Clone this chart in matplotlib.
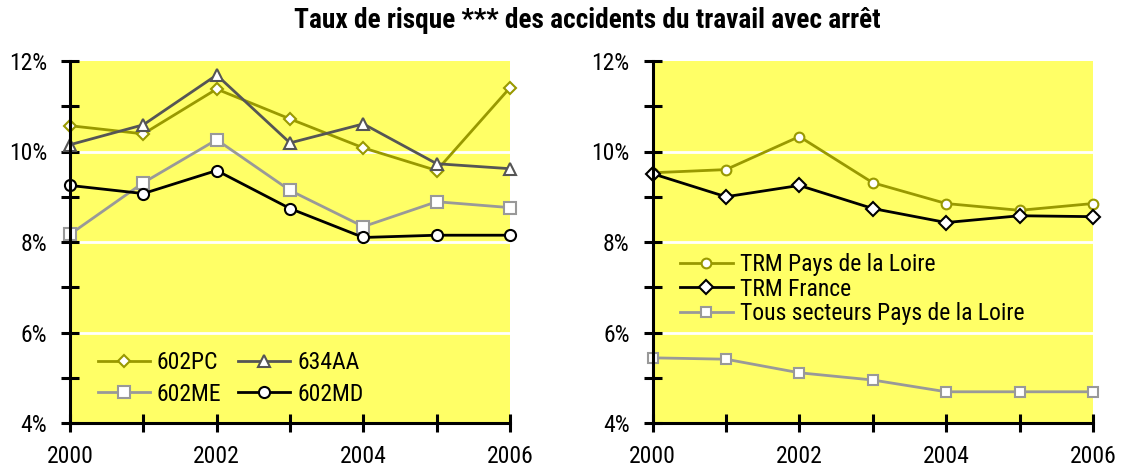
import matplotlib.pyplot as plt
from matplotlib.ticker import MultipleLocator, FixedLocator
from matplotlib import font_manager

available = {f.name for f in font_manager.fontManager.ttflist}
families = [f for f in ['Roboto Condensed', 'Archivo Narrow', 'Asap Condensed'] if f in available]
plt.rcParams['font.family'] = families + ['DejaVu Sans']

years = [2000, 2001, 2002, 2003, 2004, 2005, 2006]

# left panel
s_602pc = [10.57, 10.39, 11.38, 10.72, 10.08, 9.58, 11.41]
s_634aa = [10.15, 10.59, 11.69, 10.19, 10.61, 9.73, 9.62]
s_602me = [8.17, 9.31, 10.26, 9.14, 8.34, 8.89, 8.76]
s_602md = [9.25, 9.07, 9.58, 8.74, 8.10, 8.15, 8.15]

# right panel
trm_pdl = [9.53, 9.60, 10.33, 9.31, 8.85, 8.70, 8.85]
trm_fr = [9.51, 9.00, 9.25, 8.74, 8.43, 8.58, 8.56]
tous_pdl = [5.44, 5.41, 5.11, 4.95, 4.69, 4.69, 4.69]

OLIVE = '#999900'
DGREY = '#555555'
LGREY = '#999999'
YELLOW = '#FFFF66'

W, H = 1122, 468
fig = plt.figure(figsize=(W / 100, H / 100), dpi=100)
ax1 = fig.add_axes([70/W, 1-423/H, 440/W, 362/H])
ax2 = fig.add_axes([652.5/W, 1-423/H, 440.5/W, 362/H])


def style(ax):
    ax.set_facecolor(YELLOW)
    ax.set_xlim(2000, 2006)
    ax.set_ylim(4, 12)
    for y in [6, 8, 10]:
        ax.axhline(y, color='white', lw=2, zorder=1)
    for s in ['top', 'right']:
        ax.spines[s].set_visible(False)
    for s in ['left', 'bottom']:
        ax.spines[s].set_linewidth(2.2)
        ax.spines[s].set_zorder(5)
    ax.yaxis.set_major_locator(FixedLocator([4, 6, 8, 10, 12]))
    ax.yaxis.set_minor_locator(MultipleLocator(1))
    ax.xaxis.set_major_locator(FixedLocator([2000, 2002, 2004, 2006]))
    ax.xaxis.set_minor_locator(MultipleLocator(1))
    ax.set_yticklabels(['4%', '6%', '8%', '10%', '12%'])
    ax.set_xticklabels(['2000', '2002', '2004', '2006'])
    ax.tick_params(which='both', direction='inout', width=2.2, length=13)
    ax.tick_params(axis='y', which='both', labelsize=17, pad=10)
    ax.tick_params(axis='x', which='both', labelsize=17, pad=9)


style(ax1)
style(ax2)

kw = dict(lw=2, markerfacecolor='white', clip_on=False, zorder=3, markeredgewidth=1.5)
l_pc, = ax1.plot(years, s_602pc, color=OLIVE, marker='D', ms=6, markeredgecolor=OLIVE, label='602PC', **kw)
l_aa, = ax1.plot(years, s_634aa, color=DGREY, marker='^', ms=8, markeredgecolor=DGREY, label='634AA', **kw)
l_me, = ax1.plot(years, s_602me, color=LGREY, marker='s', ms=8, markeredgecolor=LGREY, label='602ME', **kw)
l_md, = ax1.plot(years, s_602md, color='black', marker='o', ms=8, markeredgecolor='black', label='602MD', **kw)
# column-wise fill: order so rows read 602PC/634AA and 602ME/602MD
ax1.legend([l_pc, l_me, l_aa, l_md], ['602PC', '602ME', '634AA', '602MD'],
           loc='lower left', bbox_to_anchor=(0.015, -0.011), ncol=2, frameon=False,
           fontsize=17, handlelength=2.2, columnspacing=0.7, labelspacing=0.37, handletextpad=0.3)

ax2.plot(years, trm_pdl, color=OLIVE, marker='o', ms=7, markeredgecolor=OLIVE, label='TRM Pays de la Loire', **kw)
ax2.plot(years, trm_fr, color='black', marker='D', ms=7, markeredgecolor='black', label='TRM France', **kw)
ax2.plot(years, tous_pdl, color=LGREY, marker='s', ms=7, markeredgecolor=LGREY, label='Tous secteurs Pays de la Loire', **kw)
ax2.legend(loc='upper left', bbox_to_anchor=(0.014, 0.527), frameon=False,
           fontsize=17, handlelength=2.25, labelspacing=0.05, handletextpad=0.3)

fig.text(587 / W, 0.957, 'Taux de risque *** des accidents du travail avec arrêt',
         ha='center', va='center', fontsize=19.7, fontweight='bold')

fig.savefig('out.png', dpi=100)
